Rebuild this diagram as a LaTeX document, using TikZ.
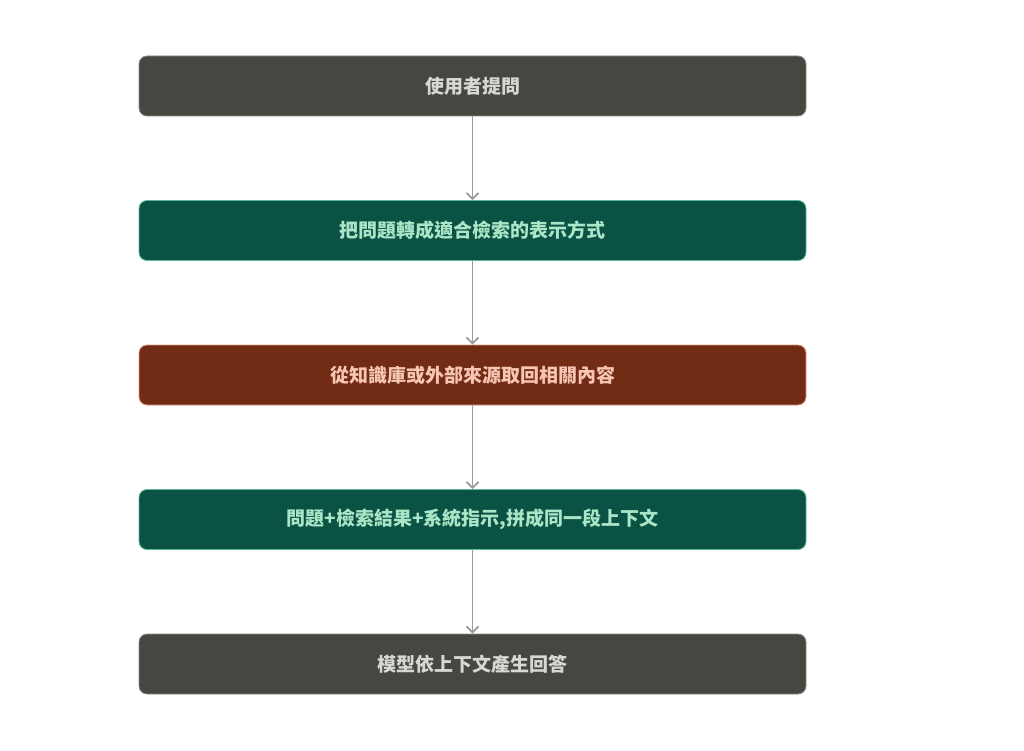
\documentclass[tikz,border=0pt]{standalone}
\usepackage{fontspec}
\newfontfamily\cjk{Noto Sans CJK TC}
\usetikzlibrary{positioning,arrows.meta}

\definecolor{grayfill}{HTML}{474742}
\definecolor{grayline}{HTML}{8A8A84}
\definecolor{graytext}{HTML}{D8D8D2}
\definecolor{greenfill}{HTML}{0A5244}
\definecolor{greenline}{HTML}{5DB897}
\definecolor{greentext}{HTML}{A9E5C6}
\definecolor{brownfill}{HTML}{722B15}
\definecolor{brownline}{HTML}{E0957A}
\definecolor{browntext}{HTML}{F6C6B2}
\definecolor{arrowgray}{HTML}{9A9A96}

\tikzset{
	stepbox/.style={rectangle,rounded corners=8pt,minimum width=667pt,minimum height=60pt,
		line width=0.8pt,font=\cjk\bfseries\fontsize{19}{22}\selectfont},
	graybox/.style={stepbox,fill=grayfill,draw=grayline,text=graytext},
	greenbox/.style={stepbox,fill=greenfill,draw=greenline,text=greentext},
	brownbox/.style={stepbox,fill=brownfill,draw=brownline,text=browntext},
	flow/.style={draw=arrowgray,line width=1.7pt,-{Straight Barb[length=6pt,width=12pt,line width=1.7pt]}}
}

\begin{document}
	\begin{tikzpicture}[x=1pt,y=1pt,node distance=83.7pt]
		\useasboundingbox (0,0) rectangle (1024,-751);
		\node[graybox] (ask) at (472.5,-86) {使用者提問};
		\node[greenbox,below=of ask] (query) {把問題轉成適合檢索的表示方式};
		\node[brownbox,below=of query] (fetch) {從知識庫或外部來源取回相關內容};
		\node[greenbox,below=of fetch] (merge) {問題+檢索結果+系統指示,拼成同一段上下文};
		\node[graybox,below=of merge] (answer) {模型依上下文產生回答};
		
		\draw[flow] (ask) -- (query);
		\draw[flow] (query) -- (fetch);
		\draw[flow] (fetch) -- (merge);
		\draw[flow] (merge) -- (answer);
	\end{tikzpicture}
\end{document}
